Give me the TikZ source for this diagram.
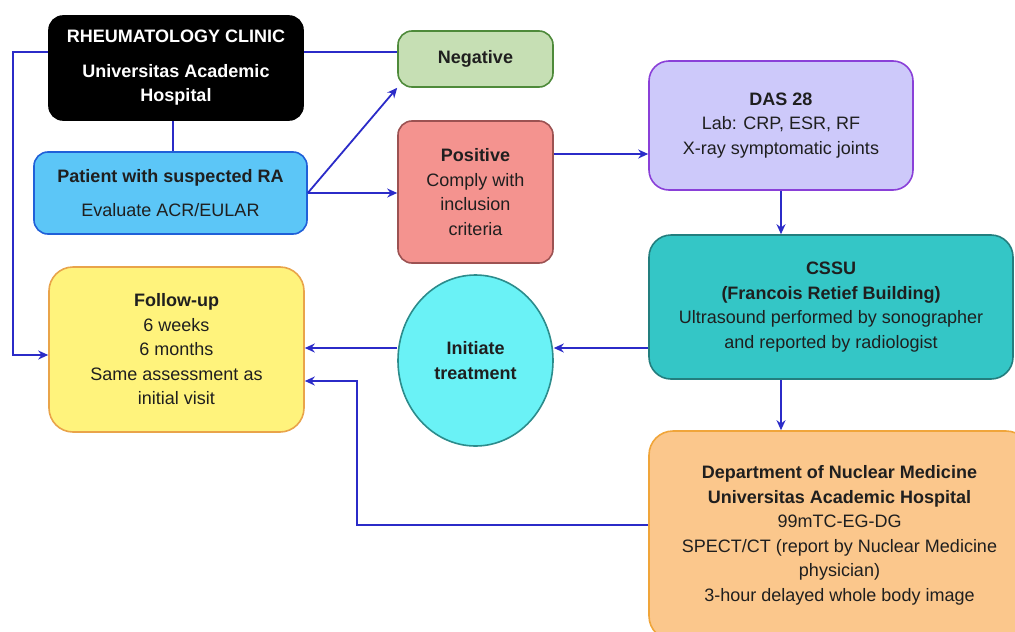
\documentclass[tikz,border=0pt]{standalone}
\usepackage{fontspec}
\setmainfont{Liberation Sans}
\usepackage{tikz}
\usetikzlibrary{arrows.meta,shapes.geometric}

\definecolor{linkblue}{HTML}{2B2BC8}
\definecolor{negfill}{HTML}{C6DFB4}
\definecolor{negline}{HTML}{4E8A3A}
\definecolor{patfill}{HTML}{5CC6F7}
\definecolor{patline}{HTML}{2060D8}
\definecolor{posfill}{HTML}{F4938F}
\definecolor{posline}{HTML}{9C5252}
\definecolor{dasfill}{HTML}{CDC9FA}
\definecolor{dasline}{HTML}{8A40D8}
\definecolor{cssufill}{HTML}{34C6C6}
\definecolor{cssuline}{HTML}{237E7E}
\definecolor{folfill}{HTML}{FFF37C}
\definecolor{folline}{HTML}{E9A44A}
\definecolor{trtfill}{HTML}{6AF2F6}
\definecolor{trtline}{HTML}{2C8C8C}
\definecolor{nucfill}{HTML}{FBC78C}
\definecolor{nucline}{HTML}{F0A53A}

\begin{document}
\begin{tikzpicture}[x=1pt,y=-1pt,
  box/.style={draw, line width=1.6pt, rounded corners=14pt, align=center, inner sep=0pt,
    text=black!88, font=\fontsize{18}{24.5}\selectfont},
  link/.style={linkblue, line width=1.8pt},
  tolink/.style={link, -{Stealth[length=10pt,width=9pt]}}]
\clip (0,0) rectangle (1015,632);

% boxes
\node[box, fill=black, text=white, minimum width=254pt, minimum height=104pt] (rheum) at (176,68)
  {\textbf{RHEUMATOLOGY CLINIC}\\[10pt]\textbf{Universitas Academic}\\\textbf{Hospital}};
\node[box, fill=negfill, draw=negline, minimum width=155pt, minimum height=56pt] (neg) at (475.5,59)
  {\textbf{Negative}};
\node[box, fill=patfill, draw=patline, minimum width=273pt, minimum height=82pt] (patient) at (170.5,193)
  {\textbf{Patient with suspected RA}\\[9pt]Evaluate ACR/EULAR};
\node[box, fill=posfill, draw=posline, minimum width=155pt, minimum height=142pt] (pos) at (475.5,192)
  {\textbf{Positive}\\Comply with\\inclusion\\criteria};
\node[box, fill=dasfill, draw=dasline, rounded corners=20pt, minimum width=264pt, minimum height=129pt] (das) at (781,125.5)
  {\textbf{DAS 28}\\Lab: CRP, ESR, RF\\X-ray symptomatic joints};
\node[box, fill=cssufill, draw=cssuline, rounded corners=22pt, minimum width=364pt, minimum height=144pt] (cssu) at (831,307)
  {\textbf{CSSU}\\\textbf{(Francois Retief Building)}\\Ultrasound performed by sonographer\\and reported by radiologist};
\node[box, fill=folfill, draw=folline, rounded corners=24pt, minimum width=255pt, minimum height=165pt] (follow) at (176.5,349.5)
  {\textbf{Follow-up}\\6 weeks\\6 months\\Same assessment as\\initial visit};
\node[box, ellipse, fill=trtfill, draw=trtline, minimum width=155pt, minimum height=171pt] (treat) at (475.5,360.5)
  {\textbf{Initiate}\\\textbf{treatment}};
\node[box, fill=nucfill, draw=nucline, rounded corners=24pt, minimum width=381pt, minimum height=209pt] (nuclear) at (839.5,535.5)
  {\textbf{Department of Nuclear Medicine}\\\textbf{Universitas Academic Hospital}\\99mTC-EG-DG\\SPECT/CT (report by Nuclear Medicine\\physician)\\3-hour delayed whole body image};

\coordinate (lft) at (13,355);
\coordinate (bend) at (357,381);

% links
\draw[tolink] ([yshift=16pt]rheum.west) -| (lft) -- (lft -| follow.west);
\draw[link] ([yshift=16pt]rheum.east) -- ([yshift=16pt]rheum.east -| neg.west);
\draw[link] (rheum.south -| 173,0) -- (173,0 |- patient.north);
\draw[tolink] (patient.east) -- (neg.south west);
\draw[tolink] (patient.east) -- (patient.east -| pos.west);
\draw[tolink] ([yshift=38pt]pos.east) -- ([yshift=38pt]pos.east -| das.west);
\draw[tolink] (das.south) -- (das.south |- cssu.north);
\draw[tolink] ([yshift=-41pt]cssu.west) -- ([yshift=-41pt]cssu.west -| treat.east);
\draw[tolink] ([yshift=12.5pt]treat.west) -- ([yshift=12.5pt]treat.west -| follow.east);
\draw[tolink] (das.south |- cssu.south) -- (das.south |- nuclear.north);
\draw[tolink] ([yshift=10.5pt]nuclear.west) -| (bend) -- (bend -| follow.east);
\end{tikzpicture}
\end{document}
